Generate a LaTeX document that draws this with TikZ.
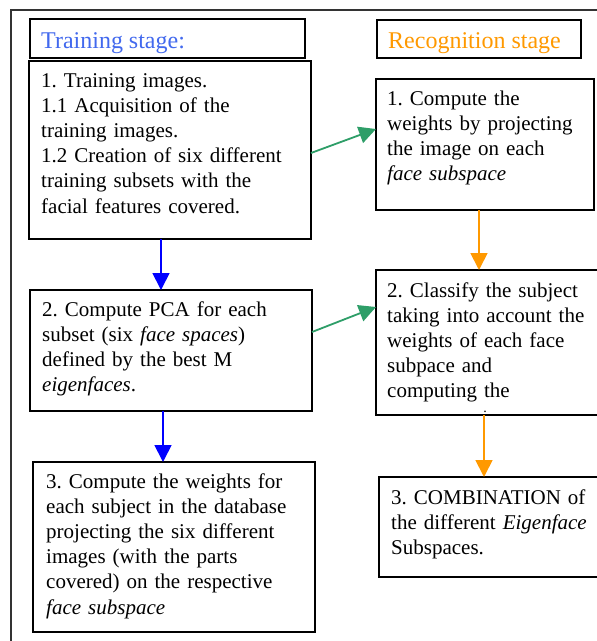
\documentclass[tikz,border=0pt]{standalone}
\usepackage{fontspec}
\setmainfont{Liberation Serif}
\usetikzlibrary{arrows.meta,calc}
\definecolor{titleblue}{RGB}{66,105,238}
\definecolor{recorange}{RGB}{255,153,0}
\definecolor{arrgreen}{RGB}{46,158,104}
\frenchspacing
\begin{document}
\begin{tikzpicture}[x=1pt,y=-1pt,
  box/.style={draw=black, line width=1.8pt, inner sep=0pt, outer sep=0pt, anchor=north west},
  txt/.style={anchor=base west, inner sep=0pt, align=left, text width=#1,
              font=\fontsize{21}{25.2}\selectfont},
  ttl/.style={anchor=base west, inner sep=0pt, font=\fontsize{24}{28}\selectfont},
  arr/.style={line width=1.8pt, -{Triangle[length=17pt,width=17pt]}}
]
\useasboundingbox (0,0) rectangle (597,641);
\clip (0,0) rectangle (597,641);
\fill[white] (0,0) rectangle (597,641);
% outer frame
\draw[line width=1.2pt, black!80] (11,645) -- (11,10) -- (605,10);
% boxes
\node[box, minimum width=275pt, minimum height=39pt] (tt) at (30,19) {};
\node[box, minimum width=282pt, minimum height=178pt] (b1) at (29,61) {};
\node[box, minimum width=282pt, minimum height=121pt] (b2) at (30,290) {};
\node[box, minimum width=282pt, minimum height=170pt] (b3) at (33,462) {};
\node[box, minimum width=204pt, minimum height=38pt] (rt) at (377,20) {};
\node[box, minimum width=218pt, minimum height=131pt] (r1) at (376,79) {};
\node[box, minimum width=226pt, minimum height=145pt] (r2) at (376,270) {};
\node[box, minimum width=226pt, minimum height=100pt] (r3) at (379,477) {};
% texts
\node[ttl, text=titleblue] (ttt) at (41,48) {Training stage:};
\node[ttl, text=recorange] (rtt) at (388,48) {Recognition stage};
\node[txt=265pt] (b1t) at (41,87) {1. Training images.\\1.1 Acquisition of the\\training images.\\1.2 Creation of six different\\training subsets with the\\facial features covered.};
\node[txt=205pt] (r1t) at (387,105) {1. Compute the\\weights by projecting\\the image on each\\\textit{face subspace}};
\node[txt=265pt] (b2t) at (42,316) {2. Compute PCA for each\\subset (six \textit{face spaces})\\defined by the best M\\\textit{eigenfaces}.};
\node[txt=205pt] (r2t) at (387,297) {2. Classify the subject\\taking into account the\\weights of each face\\subpace and\\computing the};
\node[txt=265pt] (b3t) at (46,488) {3. Compute the weights for\\each subject in the database\\projecting the six different\\images (with the parts\\covered) on the respective\\\textit{face subspace}};
\node[txt=205pt] (r3t) at (391,504) {3. COMBINATION of\\the different \textit{Eigenface}\\Subspaces.};
\node[anchor=base, inner sep=0pt, font=\fontsize{14}{14}\selectfont] (dot) at (485,412) {.};
% connector x / y references
\coordinate (xa) at (161,0);
\coordinate (xb) at (163,0);
\coordinate (xc) at (479,0);
\coordinate (xd) at (484,0);
\coordinate (ya) at (0,153);
\coordinate (yb) at (0,129);
\coordinate (yc) at (0,332);
\coordinate (yd) at (0,307);
% connectors
\draw[arr, blue] (b1.south -| xa) -- (b2.north -| xa);
\draw[arr, blue] (b2.south -| xb) -- (b3.north -| xb);
\draw[arr, recorange] (r1.south -| xc) -- (r2.north -| xc);
\draw[arr, recorange] (r2.south -| xd) -- (r3.north -| xd);
\draw[arr, arrgreen] (b1.east |- ya) -- (r1.west |- yb);
\draw[arr, arrgreen] (b2.east |- yc) -- (r2.west |- yd);
\end{tikzpicture}
\end{document}
